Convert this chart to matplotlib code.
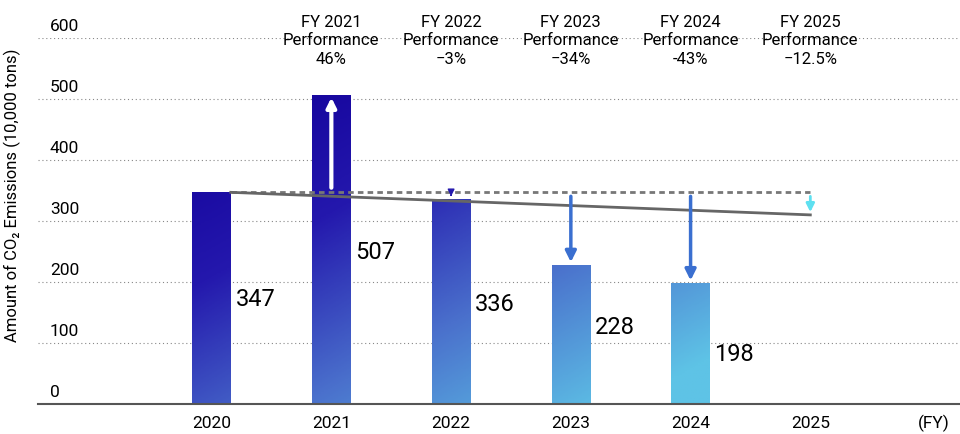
import matplotlib
matplotlib.use("Agg")
import matplotlib.pyplot as plt
import numpy as np
from matplotlib.patches import Rectangle
from matplotlib.colors import LinearSegmentedColormap

plt.rcParams['font.family'] = ['Roboto', 'DejaVu Sans']

years = [2020, 2021, 2022, 2023, 2024]
values = [347, 507, 336, 228, 198]
label_y = [173, 250, 165, 127, 82]
ann_years = [2021, 2022, 2023, 2024, 2025]
ann_texts = ["FY 2021\nPerformance\n46%", "FY 2022\nPerformance\n\u22123%",
             "FY 2023\nPerformance\n\u221234%", "FY 2024\nPerformance\n-43%",
             "FY 2025\nPerformance\n\u221212.5%"]
base = 347
target_2025 = 310
yticks = [0, 100, 200, 300, 400, 500, 600]
xticks = [2020, 2021, 2022, 2023, 2024, 2025]

fig = plt.figure(figsize=(9.6, 4.35), dpi=100)
ax = fig.add_axes([38/960, 30/435, 922/960, (405-39)/435])
ax.set_xlim(2020 - 1.45, 2025 + 1.25)
ax.set_ylim(0, 600)
for s in ['top', 'right', 'left']:
    ax.spines[s].set_visible(False)
ax.spines['bottom'].set_color('#555555')
ax.spines['bottom'].set_linewidth(1.5)
ax.set_yticks([])
ax.set_xticks(xticks)
ax.tick_params(axis='x', length=0, labelsize=12.5, pad=8)
for y in yticks[1:]:
    ax.axhline(y, color='#888888', lw=0.8, ls=(0, (1, 2.5)), zorder=0)
for y in yticks:
    ax.text(2020 - 1.35, y + 8, str(y), fontsize=12.5, va='bottom', ha='left')
fig.text(12/960, 0.55, "Amount of CO\u2082 Emissions (10,000 tons)", rotation=90,
         fontsize=12, ha='center', va='center')
fig.text(950/960, 1 - 423/435, "(FY)", ha='right', va='center', fontsize=12.5)

cmap = LinearSegmentedColormap.from_list('g', ['#12009a', '#2418ad', '#4a70cc', '#5ec3e6'])
w = 0.32
xx, yy = np.meshgrid(np.linspace(0, 1, 200), np.linspace(0, 1, 200))
grad = np.clip(0.55 * xx + 0.6 * yy - 0.05, 0, 1)
for x, v, ly in zip(years, values, label_y):
    rect = Rectangle((x - w/2, 0), w, v, facecolor='none', edgecolor='none')
    ax.add_patch(rect)
    im = ax.imshow(grad, cmap=cmap, extent=[2019.8, 2024.3, 0, 520], origin='upper',
                   aspect='auto', vmin=0, vmax=1, zorder=1)
    im.set_clip_path(rect)
    ax.text(x + w/2 + 0.04, ly, str(v), fontsize=17, va='center', ha='left')

ax.set_xlim(2020 - 1.45, 2025 + 1.25)
ax.set_ylim(0, 600)

ax.plot([2020 + w/2, 2025], [base, base], color='#777777', lw=2, ls=(0, (2, 1.5)), zorder=3)
ax.plot([2020 + w/2, 2025], [base, target_2025], color='#666666', lw=2, zorder=3)

ax.annotate('', xy=(2021, 507), xytext=(2021, 350),
            arrowprops=dict(arrowstyle='-|>', color='white', lw=3, mutation_scale=14), zorder=4)
ax.annotate('', xy=(2022, 336), xytext=(2022, 347),
            arrowprops=dict(arrowstyle='-|>', color='#2418ad', lw=1, mutation_scale=10), zorder=4)
for x, v in zip([2023, 2024], [228, 198]):
    ax.annotate('', xy=(x, v), xytext=(x, 345),
                arrowprops=dict(arrowstyle='-|>', color='#3a6fd0', lw=2.5, mutation_scale=16), zorder=4)
ax.annotate('', xy=(2025, target_2025), xytext=(2025, 345),
            arrowprops=dict(arrowstyle='-|>', color='#5ee0f0', lw=2, mutation_scale=12), zorder=4)

for x, t in zip(ann_years, ann_texts):
    ax.text(x, 640, t, fontsize=12, ha='center', va='top', linespacing=1.3)

fig.savefig('out.png', dpi=100)
